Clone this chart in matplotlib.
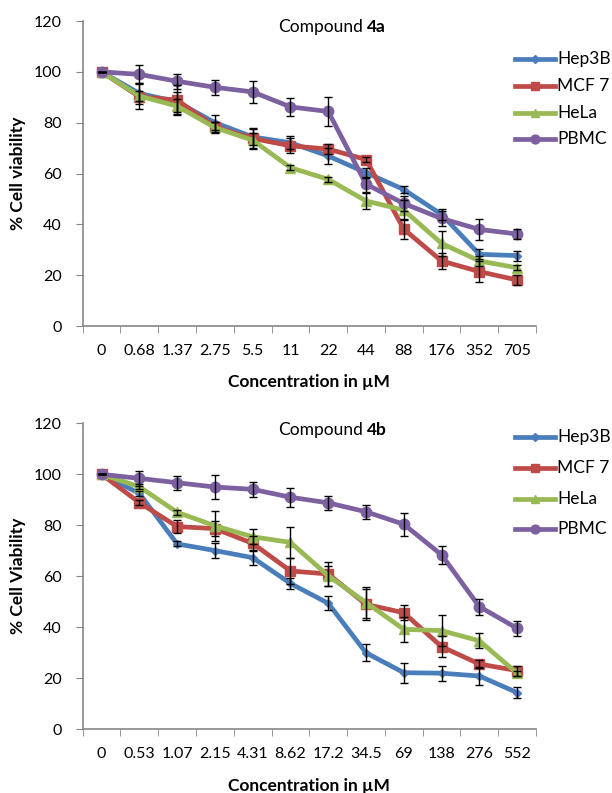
import matplotlib
matplotlib.use("Agg")
import matplotlib.pyplot as plt
from matplotlib.lines import Line2D
import numpy as np

plt.rcParams['font.family'] = ['Lato', 'DejaVu Sans']

" DATA "

series = ["Hep3B", "MCF 7", "HeLa", "PBMC"]
colors = ["#4A7EBB", "#BE4B48", "#98B954", "#7D60A0"]
markers = ["D", "s", "^", "o"]
msizes = [4.5, 6.5, 7, 7.5]

conc_a = ["0", "0.68", "1.37", "2.75", "5.5", "11", "22", "44", "88", "176", "352", "705"]
hep_a = [100, 91.5, 88.2, 80.0, 74.4, 72.1, 66.9, 60.3, 53.7, 43.9, 28.2, 27.7]
mcf_a = [100, 90.2, 88.9, 78.4, 73.8, 70.9, 69.6, 65.5, 38.1, 25.6, 21.4, 18.1]
hela_a = [100, 90.5, 86.5, 78.1, 73.1, 62.3, 57.7, 49.2, 45.6, 32.5, 25.6, 22.9]
pbmc_a = [100, 99.0, 96.3, 93.9, 92.1, 86.2, 84.4, 55.8, 48.2, 42.3, 38.0, 36.2]
err_hep_a = [0, 4, 4, 3, 3, 2.5, 3, 2, 1.5, 2, 2, 2]
err_mcf_a = [0, 5, 6, 2, 4, 3, 2, 1, 4, 3, 4, 2]
err_hela_a = [0, 2, 3, 2, 3, 1, 1, 3, 4, 5, 2, 1]
err_pbmc_a = [0, 3.5, 2.9, 2.9, 4.4, 3.6, 5.6, 3, 3, 3, 4, 2]

conc_b = ["0", "0.53", "1.07", "2.15", "4.31", "8.62", "17.2", "34.5", "69", "138", "276", "552"]
hep_b = [100, 92.5, 72.7, 70.1, 67.3, 57.2, 49.4, 30.0, 22.2, 22.0, 20.9, 14.4]
mcf_b = [100, 88.9, 79.5, 78.7, 72.9, 62.1, 60.9, 49.0, 45.7, 32.4, 25.6, 23.0]
hela_b = [100, 95.1, 85.1, 79.8, 75.5, 73.3, 60.2, 49.7, 39.2, 38.7, 34.7, 22.0]
pbmc_b = [100, 98.4, 96.7, 95.0, 94.1, 91.0, 88.8, 85.3, 80.4, 68.4, 48.1, 39.6]
err_hep_b = [0, 1, 1, 2.9, 2.9, 2.2, 2.7, 3.4, 3.9, 3.0, 3.6, 2.3]
err_mcf_b = [0, 1, 2.6, 3, 3, 5, 4.6, 6, 3, 4, 1.5, 2]
err_hela_b = [0, 1, 1, 6, 3, 6, 4, 6, 5, 6, 3, 1]
err_pbmc_b = [0, 2.9, 2.8, 4.6, 2.9, 3.7, 2.7, 2.7, 4.4, 3.6, 3.1, 3]

yticks = [0, 20, 40, 60, 80, 100, 120]

fig = plt.figure(figsize=(6.12, 7.93), dpi=100)
W, H = 612, 793
FS = 12.5


def panel(rect, labels, vals, errs, ylab, title_num, leg_top, leg_space):
    ax = fig.add_axes(rect)
    x = np.arange(len(labels))
    for s, c, m, ms, v, e in zip(series, colors, markers, msizes, vals, errs):
        ax.errorbar(x, v, yerr=e, fmt='none', ecolor='black', elinewidth=1.0,
                    capsize=3, capthick=1.0, zorder=4)
        ax.plot(x, v, color=c, lw=3.4, marker=m, ms=ms, mec=c, mfc=c, zorder=3)
    ax.set_xlim(-0.5, len(labels) - 0.5)
    ax.set_ylim(0, 120)
    ax.set_yticks(yticks)
    ax.set_xticks(x)
    ax.set_xticklabels(labels)
    ax.set_xticks(np.arange(-0.5, len(labels)), minor=True)
    ax.tick_params(axis='x', which='major', length=0, pad=13, labelsize=11.5)
    ax.tick_params(axis='x', which='minor', length=5, color='#878787', direction='out')
    ax.tick_params(axis='y', length=5, color='#878787', labelsize=11.5, pad=10)
    for sp in ['top', 'right']:
        ax.spines[sp].set_visible(False)
    for sp in ['left', 'bottom']:
        ax.spines[sp].set_color('#878787')
        ax.spines[sp].set_linewidth(1.2)
    ax.set_xlabel("Concentration in \u00b5M", fontweight='bold', fontsize=FS)
    ax.set_ylabel(ylab, fontweight='bold', fontsize=FS)
    ax.xaxis.set_label_coords(0.5, -0.184, transform=ax.transAxes)
    ax.xaxis.label.set_va('center')
    ax.yaxis.set_label_coords(-0.143, 0.5, transform=ax.transAxes)
    ax.yaxis.label.set_va('center')

    # title: "Compound" normal + number bold
    ty = rect[1] + rect[3] - 0.008
    fig.text(363 / W, ty, "Compound", ha='right', va='center', fontsize=FS)
    fig.text(366.5 / W, ty, title_num, ha='left', va='center', fontsize=FS, fontweight='bold')

    # legend
    for i, (s, c, m, ms) in enumerate(zip(series, colors, markers, msizes)):
        yy = 1 - (leg_top + i * leg_space) / H
        fig.add_artist(Line2D([515 / W, 555 / W], [yy, yy], color=c, lw=3.4))
        fig.add_artist(Line2D([535 / W], [yy], color=c, marker=m, ms=ms * 0.85, mec=c, mfc=c))
        fig.text(557 / W, yy, s, ha='left', va='center', fontsize=FS)
    return ax


panel([82.7 / W, 1 - 326 / H, (536 - 82.7) / W, 305 / H], conc_a,
      [hep_a, mcf_a, hela_a, pbmc_a], [err_hep_a, err_mcf_a, err_hela_a, err_pbmc_a],
      "% Cell viability", "4a", 59, 26.8)
panel([82.7 / W, 1 - 729.3 / H, (536 - 82.7) / W, 306 / H], conc_b,
      [hep_b, mcf_b, hela_b, pbmc_b], [err_hep_b, err_mcf_b, err_hela_b, err_pbmc_b],
      "% Cell Viability", "4b", 437, 30.8)

fig.savefig("out.png", dpi=100)
